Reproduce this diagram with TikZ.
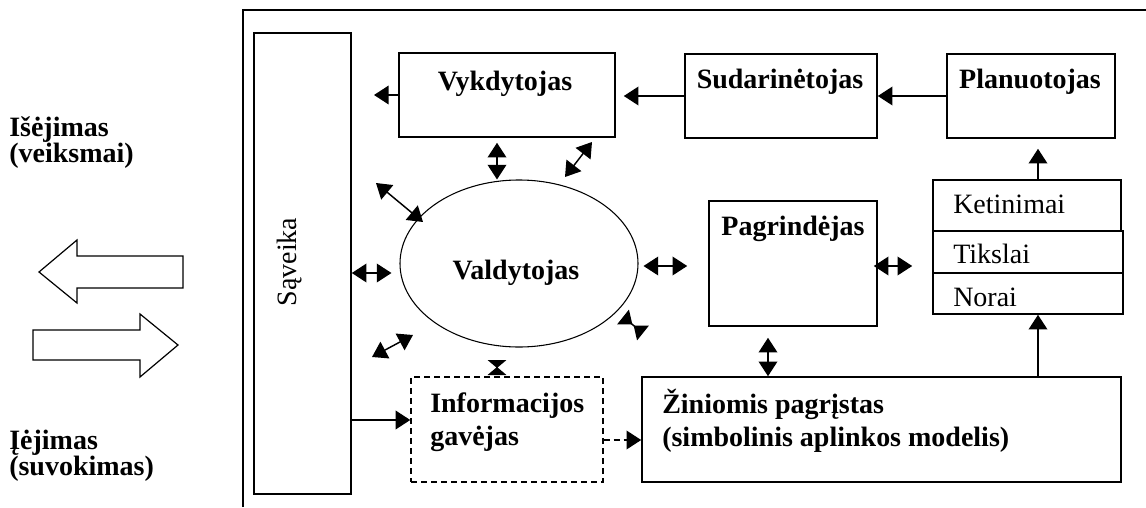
\documentclass[tikz,border=0pt]{standalone}
\usepackage{fontspec}
\setmainfont{Liberation Serif}
\usetikzlibrary{arrows.meta,fit,shapes.geometric,calc}

\begin{document}
\begin{tikzpicture}[x=0.75pt,y=-0.75pt,
  box/.style={draw,line width=1.2pt,inner sep=0pt},
  dbox/.style={draw,line width=1.1pt,inner sep=0pt,dash pattern=on 4.5pt off 3pt},
  lbl/.style={font=\fontsize{21}{24.5}\selectfont\bfseries,inner sep=0pt},
  rlbl/.style={font=\fontsize{21}{25}\selectfont,inner sep=0pt},
  conn/.style={line width=1.1pt,-{Triangle[length=11pt,width=14pt]}},
  dconn/.style={line width=1.1pt,{Triangle[length=11pt,width=14pt]}-{Triangle[length=11pt,width=14pt]}},
  rconn/.style={line width=1.1pt,{Triangle[reversed,length=#1,width=14pt]}-{Triangle[reversed,length=#1,width=14pt]}},
  hollow/.style={draw,line width=0.9pt,fill=white}
]
\useasboundingbox (0,0) rectangle (1146,507);

% frame (top and left edges only)
\coordinate (fbl) at (243,507);
\coordinate (ftl) at (243,10);
\coordinate (ftr) at (1146,10);
\draw[line width=1.2pt] (fbl) -- (ftl) -- (ftr);

% left side labels
\node[lbl,anchor=base west] (out1) at (9,136) {Išėjimas};
\node[lbl,anchor=base west] (out2) at (9,162) {(veiksmai)};
\node[lbl,anchor=base west] (in1) at (9,449) {Įėjimas};
\node[lbl,anchor=base west] (in2) at (9,475) {(suvokimas)};

% hollow block arrows
\draw[hollow] (39,272) -- (77,240) -- (77,256) -- (183,256) -- (183,288)
  -- (77,288) -- (77,303) -- cycle;
\draw[hollow] (178,345) -- (140,314) -- (140,330) -- (33,330) -- (33,360)
  -- (140,360) -- (140,377) -- cycle;

% boxes
\node[box,fit={(254,33)(351,494)}] (sav) {};
\node[rlbl,rotate=90] (savt) at (290,262) {Sąveika};
\node[box,fit={(399,53)(615,137)}] (vyk) {};
\node[lbl,anchor=base] (vykt) at (505,90) {Vykdytojas};
\node[box,fit={(685,54)(877,138)}] (sud) {};
\node[lbl,anchor=base] (sudt) at (780,88) {Sudarinėtojas};
\node[box,fit={(947,54)(1115,138)}] (plan) {};
\node[lbl,anchor=base] (plant) at (1030,88) {Planuotojas};
\node[box,fit={(933,180)(1121,231)}] (ket) {};
\node[rlbl,anchor=base west] (kett) at (953,213) {Ketinimai};
\node[box,fit={(933,231)(1123,273)}] (tik) {};
\node[rlbl,anchor=base west] (tikt) at (953,263) {Tikslai};
\node[box,fit={(933,273)(1123,314)}] (nor) {};
\node[rlbl,anchor=base west] (nort) at (953,306) {Norai};
\node[box,fit={(709,201)(877,326)}] (pag) {};
\node[lbl,anchor=base] (pagt) at (793,235) {Pagrindėjas};
\node[box,fit={(642,377)(1121,482)}] (zin) {};
\node[lbl,anchor=base west,align=left] (zint) at (662,446)
  {Žiniomis pagrįstas\\(simbolinis aplinkos modelis)};
\node[dbox,fit={(411,377)(603,482)}] (inf) {};
\node[lbl,anchor=base west,align=left] (inft) at (430,445) {Informacijos\\gavėjas};
\node[draw,ellipse,line width=0.8pt,minimum width=178.5pt,minimum height=125.25pt,
  inner sep=0pt] (val) at (519,263.5) {};
\node[lbl,anchor=base] (valt) at (516,279) {Valdytojas};

% guide rows and columns for connectors
\coordinate (rowA) at (0,266);
\coordinate (rowB) at (0,273);
\coordinate (rowC) at (0,420);
\coordinate (rowD) at (0,440);
\coordinate (colA) at (497,0);
\coordinate (colB) at (768,0);
\coordinate (colC) at (1038,0);
\coordinate (vykout) at (374,95);

% single connectors
\draw[conn] (vyk.west) -- (vykout);
\draw[conn,shorten >=6pt] (sud.west) -- (sud.west -| vyk.east);
\draw[conn] (plan.west) -- (plan.west -| sud.east);
\draw[conn,shorten >=7.5pt] (ket.north -| colC) -- (plan.south -| colC);
\draw[conn] (zin.north -| colC) -- (nor.south -| colC);
\draw[conn] (sav.east |- rowC) -- (inf.west |- rowC);
\draw[conn,dash pattern=on 4.5pt off 3pt] (inf.east |- rowD) -- (zin.west |- rowD);

% two-way connectors
\draw[dconn,shorten <=3.75pt] (vyk.south -| colA) -- (val.north -| colA);
\draw[dconn,shorten <=8.25pt] (pag.south -| colB) -- (zin.north -| colB);
\draw[dconn,shorten <=-3pt,shorten >=15pt] (pag.east |- rowA) -- (tik.west |- rowA);
\draw[dconn,shorten <=3.75pt,shorten >=15.75pt] (val.east |- rowA) -- (pag.west |- rowA);
\draw[dconn,shorten >=6pt] (sav.east |- rowB) -- (val.west |- rowB);

% free two-way connectors around the controller
\coordinate (d1a) at (592,142); \coordinate (d1b) at (565,177);
\coordinate (d2a) at (376,183); \coordinate (d2b) at (423,222);
\coordinate (d3a) at (372,357); \coordinate (d3b) at (413,335);
\coordinate (d4a) at (623,317); \coordinate (d4b) at (643,333);
\coordinate (d5a) at (497,360); \coordinate (d5b) at (497,375);
\draw[dconn] (d1a) -- (d1b);
\draw[dconn] (d2a) -- (d2b);
\draw[dconn] (d3a) -- (d3b);
\draw[rconn=9pt] (d4a) -- (d4b);
\draw[rconn=6pt] (d5a) -- (d5b);
\end{tikzpicture}
\end{document}
